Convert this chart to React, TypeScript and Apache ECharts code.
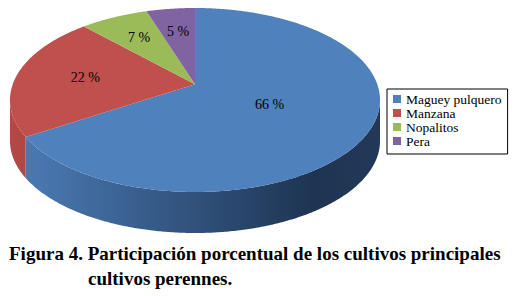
import React, { useEffect, useRef } from "react";
import * as echarts from "echarts";

const CATEGORIES = ["Maguey pulquero", "Manzana", "Nopalitos", "Pera"];
const VALUES = [66, 22, 7, 5];
const LABEL_SUFFIX = " %";
const CAPTION_LINES = [
  "Figura 4. Participación porcentual de los cultivos principales",
  "cultivos perennes.",
];

const SERIF = "Liberation Serif, Times New Roman, serif";
const TOP_COLORS = ["#4F81BD", "#C0504D", "#9BBB59", "#8064A2"];
const SIDE_STOPS: [number, string][][] = [
  [[0, "#4b7bb4"], [0.12, "#4673aa"], [0.5, "#30517b"], [0.82, "#1e3452"], [1, "#22395a"]],
  [[0, "#b44a47"], [0.12, "#a8413e"], [0.5, "#8a3432"], [1, "#6a2826"]],
  [[0, "#8aa84f"], [1, "#5d7234"]],
  [[0, "#715890"], [1, "#4b3b60"]],
];

const CX = 195;
const CY = 100;
const RX = 185;
const RY = 92;
const DEPTH = 41;
const PERSP = 0.17;
const SQ = Math.sqrt(1 - PERSP * PERSP);

const TOTAL = VALUES.reduce((a, b) => a + b, 0);
const STARTS = VALUES.map(
  (_, i) => (VALUES.slice(0, i).reduce((a, b) => a + b, 0) / TOTAL) * 2 * Math.PI
);
const ENDS = STARTS.map((s, i) => s + (VALUES[i] / TOTAL) * 2 * Math.PI);

function project(r: number, t: number): number[] {
  const u = r * Math.sin(t);
  const v = -r * Math.cos(t);
  const d = 1 - PERSP * v;
  return [CX + (RX * u * SQ) / d, CY + (RY * (v - PERSP)) / d];
}

function arc(a: number, b: number): number[][] {
  const n = Math.max(2, Math.ceil((b - a) / (Math.PI / 360)));
  const pts: number[][] = [];
  for (let k = 0; k <= n; k++) pts.push(project(1, a + ((b - a) * k) / n));
  return pts;
}

const renderSlice = (i: number) => () => {
  const a = STARTS[i];
  const b = ENDS[i];
  const children: any[] = [];
  const lo = Math.acos(-PERSP);
  const hi = 2 * Math.PI - lo;
  const sa = Math.max(a, lo);
  const sb = Math.min(b, hi);
  if (sb > sa) {
    const top = arc(sa, sb);
    const bottom = top.map(([x, y]) => [x, y + DEPTH]).reverse();
    children.push({
      type: "polygon",
      shape: { points: top.concat(bottom) },
      style: {
        fill: new echarts.graphic.LinearGradient(
          CX - RX,
          0,
          CX + RX,
          0,
          SIDE_STOPS[i].map(([o, c]) => ({ offset: o, color: c })),
          true
        ),
      },
    });
  }
  const face = [project(0, 0)].concat(arc(a, b));
  children.push({
    type: "polygon",
    shape: { points: face },
    style: { fill: TOP_COLORS[i] },
  });
  const half = (b - a) / 2;
  const cent = half >= Math.PI ? 0 : (2 * Math.sin(half)) / (3 * half);
  const r = Math.max(cent, 0.45);
  const [lx, ly] = project(r, (a + b) / 2);
  children.push({
    type: "text",
    style: {
      text: VALUES[i] + LABEL_SUFFIX,
      x: lx,
      y: ly,
      align: "center",
      verticalAlign: "middle",
      fontSize: 14,
      fontFamily: SERIF,
      fill: "#000",
    },
  });
  return { type: "group", children };
};

export default function App() {
  const ref = useRef<HTMLDivElement>(null);
  useEffect(() => {
    const chart = echarts.init(ref.current!, null, { renderer: "svg" });
    chart.setOption({
      animation: false,
      backgroundColor: "#fff",
      color: TOP_COLORS,
      legend: {
        orient: "vertical",
        left: 387,
        top: 89,
        icon: "rect",
        itemWidth: 8,
        itemHeight: 8,
        itemGap: 0,
        padding: [3, 6, 6, 6],
        borderColor: "#000",
        borderWidth: 1,
        selectedMode: false,
        textStyle: {
          fontFamily: SERIF,
          fontSize: 13.5,
          color: "#000",
          lineHeight: 13.2,
        },
        data: CATEGORIES,
      },
      series: CATEGORIES.map((name, i) => ({
        type: "custom",
        name,
        coordinateSystem: "none",
        data: [[i]],
        renderItem: renderSlice(i),
      })),
      graphic: [
        {
          type: "text",
          x: 9,
          y: 253.6,
          style: {
            text: CAPTION_LINES[0],
            fontSize: 19,
            fontWeight: "bold",
            fontFamily: SERIF,
            fill: "#000",
            verticalAlign: "middle",
          },
        },
        {
          type: "text",
          x: 88,
          y: 278.6,
          style: {
            text: CAPTION_LINES[1],
            fontSize: 19,
            fontWeight: "bold",
            fontFamily: SERIF,
            fill: "#000",
            verticalAlign: "middle",
          },
        },
      ],
    });
    return () => chart.dispose();
  }, []);
  return (
    <div
      ref={ref}
      style={{ position: "absolute", left: 0, top: 0, width: 518, height: 296, background: "#fff" }}
    />
  );
}
